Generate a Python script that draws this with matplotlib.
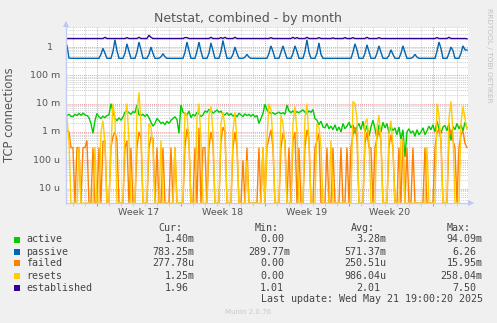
import numpy as np
import matplotlib
matplotlib.use("Agg")
import matplotlib.pyplot as plt
from matplotlib.ticker import MultipleLocator, LogLocator, NullFormatter, FixedLocator
from matplotlib.lines import Line2D
from matplotlib.patches import Polygon, Rectangle

# ---------------- data (4-hour samples: 00,04,08,12,16,20 h per day) ----------------
# day 0 = Monday of week 17; days -3 .. 30
passive = [
    0.40,0.40,1.45,1.15,0.41,0.40,  # -3 Fri
    0.40,0.40,0.40,0.40,0.40,0.40,  # -2 Sat
    0.40,0.40,0.40,0.40,0.40,0.40,  # -1 Sun
    0.40,0.40,0.55,0.90,0.60,0.40,  # 0
    0.40,0.40,0.70,1.80,0.75,0.40,  # 1
    0.40,0.40,0.60,1.30,0.70,0.40,  # 2
    0.40,0.40,0.65,1.50,0.80,0.40,  # 3
    0.40,0.40,0.55,1.00,0.60,0.40,  # 4
    0.40,0.40,0.45,0.58,0.45,0.40,  # 5
    0.40,0.40,0.40,0.40,0.40,0.40,  # 6
    0.40,0.40,0.65,1.50,0.75,0.40,  # 7
    0.40,0.40,0.70,1.50,0.70,0.40,  # 8
    0.40,0.40,0.60,1.40,0.75,0.40,  # 9
    0.40,0.40,0.70,1.70,0.80,0.40,  # 10
    0.40,0.40,0.55,1.00,0.60,0.40,  # 11
    0.40,0.40,0.44,0.55,0.44,0.40,  # 12
    0.40,0.40,0.40,0.40,0.40,0.40,  # 13
    0.40,0.40,0.60,1.10,0.70,0.40,  # 14
    0.40,0.40,0.65,1.10,0.65,0.40,  # 15
    0.40,0.40,0.60,1.10,0.70,0.40,  # 16
    0.40,0.40,0.70,1.80,0.65,0.40,  # 17
    0.40,0.40,0.60,1.40,0.55,0.40,  # 18
    0.40,0.40,0.40,0.40,0.40,0.40,  # 19
    0.40,0.40,0.40,0.40,0.40,0.40,  # 20
    0.40,0.40,0.65,1.30,0.80,0.40,  # 21
    0.40,0.40,0.60,1.20,0.70,0.40,  # 22
    0.40,0.40,0.60,1.10,0.65,0.40,  # 23
    0.40,0.40,0.50,0.80,0.55,0.40,  # 24
    0.40,0.40,0.60,1.10,0.65,0.40,  # 25
    0.40,0.40,0.44,0.55,0.44,0.40,  # 26
    0.40,0.40,0.40,0.40,0.40,0.40,  # 27
    0.40,0.40,0.70,1.50,0.90,0.40,  # 28
    0.40,0.40,0.60,1.00,0.75,0.40,  # 29
    0.40,0.40,0.60,1.10,0.80,0.78,  # 30
]

established = [
    2.0,2.0,2.0,2.0,2.0,2.0,  # -3
    2.0,2.0,2.0,2.0,2.0,2.0,  # -2
    2.0,2.0,2.0,2.0,2.0,2.0,  # -1
    2.0,2.0,2.0,2.0,2.2,2.0,  # 0
    2.0,2.0,2.0,2.0,2.0,2.0,  # 1
    2.0,2.0,2.0,2.15,2.0,2.0, # 2
    2.0,2.0,2.0,2.2,2.0,2.0,  # 3
    2.0,2.0,2.6,2.2,2.0,2.0,  # 4
    2.0,2.0,2.0,2.0,2.0,2.0,  # 5
    2.0,2.0,2.0,2.0,2.0,2.0,  # 6
    2.0,2.0,2.15,2.15,2.0,2.0,# 7
    2.0,2.0,2.0,2.0,2.0,2.0,  # 8
    2.0,2.0,2.0,2.2,2.0,2.0,  # 9
    2.0,2.0,2.15,2.0,2.2,2.0, # 10
    2.0,2.0,2.0,2.2,2.0,2.0,  # 11
    2.0,2.0,2.0,2.0,2.0,2.0,  # 12
    2.0,2.0,2.0,2.0,2.0,2.0,  # 13
    2.0,2.0,2.0,2.15,2.0,2.0, # 14
    2.0,2.0,2.0,2.0,2.0,2.0,  # 15
    2.0,2.0,2.2,2.0,2.15,2.0, # 16
    2.0,2.0,2.0,2.2,2.0,2.0,  # 17
    2.0,2.0,2.0,2.15,2.0,2.0, # 18
    2.0,2.0,2.0,2.0,2.1,2.0,  # 19
    2.0,2.0,2.0,2.0,2.15,2.0, # 20
    2.0,2.0,2.15,2.0,2.0,2.0, # 21
    2.0,2.0,2.0,2.2,2.0,2.0,  # 22
    2.0,2.0,2.0,2.15,2.0,2.0, # 23
    2.0,2.0,2.0,2.0,2.0,2.0,  # 24
    2.0,2.0,2.0,2.0,2.0,2.0,  # 25
    2.0,2.0,2.0,2.0,2.0,2.0,  # 26
    2.0,2.0,2.0,2.0,2.0,2.0,  # 27
    2.0,2.0,2.15,2.0,2.0,2.0, # 28
    2.0,2.0,2.2,2.0,2.0,2.0,  # 29
    2.0,2.0,2.0,2.0,2.0,1.96, # 30
]

# values below in milli-units
active_m = [
    4.0,4.0,4.5,3.8,4.2,3.6,  # -3
    3.5,4.2,3.8,4.5,3.9,4.6,  # -2
    4.0,3.8,3.2,2.0,0.9,2.5,  # -1
    4.5,3.4,3.0,3.6,3.2,3.8,  # 0
    4.0,10.0,5.5,3.0,2.5,3.2, # 1
    2.6,3.4,5.0,5.5,4.8,4.2,  # 2
    5.2,4.8,9.0,4.0,3.8,4.2,  # 3
    3.6,4.2,3.2,2.2,1.6,2.0,  # 4
    3.0,2.5,2.0,2.2,1.8,2.4,  # 5
    2.0,2.6,3.0,3.4,2.8,0.9,  # 6
    9.0,5.0,4.5,3.8,5.5,3.2,  # 7
    4.2,3.6,5.0,4.4,3.5,4.0,  # 8
    5.5,5.0,6.2,5.8,4.6,5.2,  # 9
    6.0,5.0,5.4,4.3,4.0,4.8,  # 10
    3.8,4.5,3.6,4.2,3.4,4.6,  # 11
    4.0,3.5,4.4,3.8,4.2,3.6,  # 12
    4.2,3.4,3.8,2.0,3.0,4.5,  # 13
    9.5,6.0,5.0,4.5,4.8,4.2,  # 14
    4.6,5.0,4.4,4.8,4.2,9.0,  # 15
    5.5,4.8,5.6,4.6,5.2,4.8,  # 16
    5.4,6.0,5.0,4.5,5.6,4.9,  # 17
    6.2,3.0,2.6,1.8,2.4,1.5,  # 18
    1.4,2.0,1.3,1.6,1.2,1.8,  # 19
    1.1,1.5,1.0,2.0,1.3,1.6,  # 20
    2.2,1.4,1.8,0.9,1.5,2.0,  # 21
    1.2,2.4,1.0,1.7,0.7,1.5,  # 22
    2.6,1.3,0.6,1.8,1.0,2.2,  # 23
    1.4,2.0,0.9,1.6,1.1,1.4,  # 24
    0.8,1.5,0.55,1.2,0.13,1.0,# 25
    1.3,0.9,1.1,0.7,1.2,0.8,  # 26
    1.0,1.4,0.8,1.1,1.6,1.2,  # 27
    1.8,1.0,2.4,1.3,0.9,1.5,  # 28
    1.7,1.1,2.0,0.5,1.6,1.2,  # 29
    2.0,1.3,1.8,1.1,2.2,1.4,  # 30
]

failed_m = [
    0,0,1.2,1.1,1.0,0.28,     # -3
    0.28,0,0.28,0.28,0,0.28,  # -2
    0.28,0.5,0,0,0.28,0,      # -1
    0,0.28,0,0.45,0.5,0,      # 0
    0,0.28,0.7,1.0,0.5,0,     # 1
    0,0,0.28,0.5,0,0.28,      # 2
    0,0,0.28,1.0,0.6,0,       # 3
    0,0,0.28,0.65,0.6,0,      # 4
    0.28,0,0,0.28,0,0,        # 5
    0,0.28,0,0.28,0,0,        # 6
    0,0,0.28,1.3,0.5,0,       # 7
    0,0.28,0,1.4,0,0.28,      # 8
    0.28,0,0.28,1.0,0.4,0,    # 9
    0,0,0.5,1.5,1.0,0,        # 10
    0,0,0.28,1.0,0.28,0,      # 11
    0,0.1,0,0.28,0,0,         # 12
    0,0,0,0.28,0,0.28,        # 13
    0,0.28,0.6,1.2,0.28,0,    # 14
    0,0,0.28,0.9,0.5,0,       # 15
    0.28,0,0.5,1.0,0,0.28,    # 16
    0,0,0.28,1.2,0.6,0,       # 17
    0,0.28,0.5,0.9,0,0,       # 18
    0,0.28,0,0,0.28,0,        # 19
    0,0,0.28,0,0,0.28,        # 20
    0,0.28,0.8,1.5,0.6,0,     # 21
    0,0,0.4,1.0,0.28,0.28,    # 22
    0,0.28,0.6,1.1,0.5,0,     # 23
    0,0,0.3,0.8,0.28,0,       # 24
    0,0.28,0,0.6,0,0.28,      # 25
    0,0,0.28,0,0,0,           # 26
    0,0,0.28,0,0,0,           # 27
    0,0.28,0.9,1.3,0.5,0,     # 28
    0,0,0.6,1.2,0.5,0.28,     # 29
    0,0.28,0.8,1.1,0.4,0.28,  # 30
]

resets_m = [
    0,0,10,3.0,0.5,0,   # -3
    0,0,0,0.3,0,0,      # -2
    0,0,0,0,0,0.3,      # -1
    0,0,1.0,2.5,0.4,0,  # 0
    0,0.3,10,3.0,0,0,   # 1
    0,0,3,10,0.5,0,     # 2
    0,0,5,25,2,0,       # 3
    0,0,2,1.5,0.3,0,    # 4
    0,0,0.5,0,0,0,      # 5
    0,0,0,0.3,0,0,      # 6
    0,0,5,4,0.5,0,      # 7
    0,0,3,10,0.5,0,     # 8
    0,0,4,8,1,0,        # 9
    0,0,2,5,1.5,0,      # 10
    0,0,1,5,0.5,0,      # 11
    0,0,0,0.1,0,0,      # 12
    0,0,0,0,0,0.3,      # 13
    0,0.5,10,6,0.5,0,   # 14
    0,0,4,2,0.3,0,      # 15
    0,0,2,8,1,0,        # 16
    0,0,3,10,0.5,0,     # 17
    0,0,2,1.5,0.3,0,    # 18
    0,0,0,0.5,0,0,      # 19
    0,0,0,0,0,0,        # 20
    0,0,12,10,3,0,      # 21
    0,0,2,3,0.5,0,      # 22
    0,0,1.5,4,0.5,0,    # 23
    0,0,1,2.5,0.3,0,    # 24
    0,0,0.5,0.5,0,0,    # 25
    0,0,0,0,0,0,        # 26
    0,0,0,0.3,0,0,      # 27
    0,0,10,4,0.5,0,     # 28
    0,0,3,12,1,0,       # 29
    0,0,2,8,3,1.25,     # 30
]

first_day = -3
samples_per_day = 6

series_names = ["active", "passive", "failed", "resets", "established"]
series_colors = ["#00CC00", "#0066B3", "#FF8000", "#FFCC00", "#330099"]
cur_vals = ["1.40m", "783.25m", "277.78u", "1.25m", "1.96"]
min_vals = ["0.00", "289.77m", "0.00", "0.00", "1.01"]
avg_vals = ["3.28m", "571.37m", "250.51u", "986.04u", "2.01"]
max_vals = ["94.09m", "6.26", "15.95m", "258.04m", "7.50"]

ytick_vals = [1e-5, 1e-4, 1e-3, 1e-2, 1e-1, 1.0]
ytick_labels = ["10 u", "100 u", "1 m", "10 m", "100 m", "1"]
week_labels = ["Week 17", "Week 18", "Week 19", "Week 20"]

title = "Netstat, combined - by month"
ylabel = "TCP connections"
last_update = "Last update: Wed May 21 19:00:20 2025"
footer = "Munin 2.0.76"
side_text = "RRDTOOL / TOBI OETIKER"

# ---------------- figure ----------------
W, H = 497, 323
BG = "#F0F0F0"
fig = plt.figure(figsize=(W / 100, H / 100), dpi=100, facecolor=BG)

def fx(px):
    return px / W

def fy(py):
    return 1 - py / H

L, R, T, B = 66, 468, 27, 203
ax = fig.add_axes([fx(L), fy(B), (R - L) / W, (B - T) / H])
ax.set_facecolor("white")

n = len(passive)
x = first_day + np.arange(n) / samples_per_day
ymin, ymax = 3.1e-6, 5.1
ax.set_yscale("log")
ax.set_ylim(ymin, ymax)
ax.set_xlim(-2.58, 30.92)

data = [np.array(active_m) * 1e-3, np.array(passive), np.array(failed_m) * 1e-3,
        np.array(resets_m) * 1e-3, np.array(established)]
for vals, col in zip(data, series_colors):
    ax.plot(x, np.maximum(vals, ymin), color=col, lw=1.0, solid_joinstyle="miter", zorder=3)

# grid
ax.xaxis.set_major_locator(MultipleLocator(7))
ax.xaxis.set_minor_locator(MultipleLocator(1))
ax.yaxis.set_major_locator(FixedLocator(ytick_vals))
ax.yaxis.set_minor_locator(LogLocator(base=10, subs=np.arange(2, 10)))
ax.xaxis.set_major_formatter(NullFormatter())
ax.xaxis.set_minor_formatter(NullFormatter())
ax.yaxis.set_major_formatter(NullFormatter())
ax.yaxis.set_minor_formatter(NullFormatter())
ax.grid(which="minor", color="#CFCFCF", linestyle=(0, (1, 1)), lw=0.7, zorder=1)
ax.grid(which="major", color="#F0A0A0", linestyle=(0, (1, 1)), lw=0.7, zorder=1)
ax.set_axisbelow(True)
ax.tick_params(axis="y", which="both", length=0)
ax.tick_params(axis="x", which="major", length=2.5, color="#F08080", direction="out")
ax.tick_params(axis="x", which="minor", length=2, color="#C8C8C8", direction="out")
for s in ax.spines.values():
    s.set_visible(False)

# axis lines with arrows
axc = "#C4CCF6"
fig.add_artist(Line2D([fx(L), fx(L)], [fy(B), fy(24)], color=axc, lw=1.0))
fig.add_artist(Line2D([fx(L), fx(471)], [fy(B), fy(B)], color=axc, lw=1.0))
fig.add_artist(Polygon([[fx(L - 3), fy(27)], [fx(L + 3), fy(27)], [fx(L), fy(21)]],
                       closed=True, color="#B8C4F4", lw=0))
fig.add_artist(Polygon([[fx(468), fy(B - 3)], [fx(468), fy(B + 3)], [fx(474), fy(B)]],
                       closed=True, color="#B8C4F4", lw=0))

TXT = "#555555"
# y tick labels
for v, lab in zip(ytick_vals, ytick_labels):
    off = 0 if lab[-1].isalpha() else 6.7
    frac = (np.log10(v) - np.log10(ymin)) / (np.log10(ymax) - np.log10(ymin))
    py = B - frac * (B - T)
    fig.text(fx(60 - off), fy(py), lab, ha="right", va="center", fontsize=6.8, color=TXT)

# week labels
for i, lab in enumerate(week_labels):
    px = 97 + (3.5 + 7 * i) * 11.96
    fig.text(fx(px), fy(212.7), lab, ha="center", va="center", fontsize=6.8, color=TXT)

fig.text(fx(248), fy(18.5), title, ha="center", va="center", fontsize=9, color=TXT)
fig.text(fx(10), fy(115), ylabel, ha="center", va="center", rotation=90, fontsize=8.3, color=TXT)
fig.text(fx(488.5), fy(55), side_text, ha="center", va="center", rotation=270,
         fontsize=5.3, color="#C0C0C0")
fig.text(fx(248), fy(312), footer, ha="center", va="center", fontsize=5.0, color="#C8C8C8")

# legend
mono = "DejaVu Sans Mono"
fs = 7.2
LG = "#444444"
header_y = 227.7
row_y = [239.5, 251.6, 263.4, 275.6, 287.6]
for lab, px in zip(["Cur:", "Min:", "Avg:", "Max:"], [158.3, 254.3, 351.0, 446.7]):
    fig.text(fx(px), fy(header_y), lab, ha="left", va="center", fontsize=fs,
             family=mono, color=LG)
col_right = [194.3, 290.0, 386.7, 482.7]
for i, name in enumerate(series_names):
    yy = row_y[i]
    fig.add_artist(Rectangle((fx(14), fy(yy + 3)), 6 / W, 6 / H, color=series_colors[i], lw=0))
    fig.text(fx(26), fy(yy), name, ha="left", va="center", fontsize=fs, family=mono, color=LG)
    for cr, vals in zip(col_right, [cur_vals, min_vals, avg_vals, max_vals]):
        s = vals[i]
        off = 0 if s[-1].isalpha() else 6.0
        fig.text(fx(cr - off), fy(yy), s, ha="right", va="center", fontsize=fs,
                 family=mono, color=LG)
fig.text(fx(482.7), fy(299.3), last_update, ha="right", va="center", fontsize=fs,
         family=mono, color=LG)

fig.savefig("out.png", dpi=100, facecolor=BG)
